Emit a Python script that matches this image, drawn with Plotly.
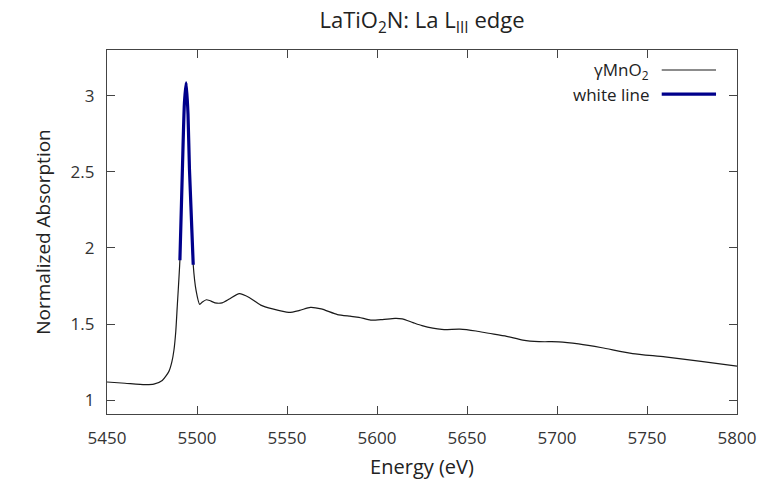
import plotly.graph_objects as go

# ---- data ----
energy = [5450, 5460, 5471, 5476, 5480.7, 5484.4, 5486, 5487.2, 5488.2, 5489,
          5490.5, 5491.9, 5493, 5494, 5495, 5495.8, 5497.9,
          5499.5, 5501.5, 5503, 5505.2, 5507, 5510, 5514, 5518, 5523.5,
          5529, 5535.4, 5542, 5551, 5557, 5563, 5569, 5578, 5585, 5590,
          5596.5, 5603, 5610, 5614, 5620, 5625, 5636, 5646, 5655, 5662,
          5672, 5681, 5690, 5701, 5712, 5725, 5742, 5760, 5780, 5800]
absorption = [1.12, 1.112, 1.103, 1.106, 1.13, 1.19, 1.25, 1.33, 1.45, 1.61,
              1.92, 2.52, 2.95, 3.085, 2.88, 2.52, 1.89,
              1.72, 1.63, 1.645, 1.66, 1.655, 1.64, 1.64, 1.665, 1.70,
              1.675, 1.625, 1.60, 1.577, 1.59, 1.61, 1.60, 1.563, 1.552, 1.545,
              1.526, 1.53, 1.538, 1.535, 1.51, 1.49, 1.465, 1.467, 1.455, 1.44,
              1.42, 1.395, 1.385, 1.384, 1.37, 1.345, 1.307, 1.285, 1.255, 1.225]
white_line_range = (5490.5, 5497.9)

x_ticks = [5450, 5500, 5550, 5600, 5650, 5700, 5750, 5800]
y_ticks = [1, 1.5, 2, 2.5, 3]

wl_e = [e for e in energy if white_line_range[0] <= e <= white_line_range[1]]
wl_a = [a for e, a in zip(energy, absorption) if white_line_range[0] <= e <= white_line_range[1]]

FONT = "Open Sans"
FRAME = "#444444"

fig = go.Figure()
fig.add_trace(go.Scatter(x=energy, y=absorption, mode="lines",
                         line=dict(color="#1a1a1a", width=1.2, shape="spline", smoothing=0.6),
                         showlegend=False, hoverinfo="skip"))
fig.add_trace(go.Scatter(x=wl_e, y=wl_a, mode="lines",
                         line=dict(color="#00008b", width=3.2, shape="spline", smoothing=0.6),
                         showlegend=False, hoverinfo="skip"))

# gnuplot-style legend (text left, sample right)
leg = [("γMnO<sub>2</sub>", "#1a1a1a", 1.2, 0.945),
       ("white line", "#00008b", 3.2, 0.879)]
for text, col, w, yy in leg:
    fig.add_annotation(x=0.8635, y=yy, xref="paper", yref="paper", text=text,
                       showarrow=False, xanchor="right", yanchor="middle",
                       font=dict(family=FONT, size=17, color="#222222"))
    fig.add_shape(type="line", xref="paper", yref="paper", x0=0.8805, x1=0.9667,
                  y0=yy, y1=yy, line=dict(color=col, width=w))

axis_common = dict(showline=True, linecolor=FRAME, linewidth=1.3, mirror="allticks",
                   ticks="inside", ticklen=8, tickcolor=FRAME, tickwidth=1.3,
                   showgrid=False, zeroline=False,
                   tickfont=dict(family=FONT, size=17, color="#333333"))

fig.update_layout(
    width=780, height=489,
    margin=dict(l=107, r=43, t=50, b=75),
    paper_bgcolor="white", plot_bgcolor="white",
    title=dict(text="LaTiO<sub>2</sub>N: La L<sub>III</sub> edge",
               x=0.5, xref="paper", y=0.958, yref="container", yanchor="middle",
               font=dict(family=FONT, size=22, color="#222222")),
    xaxis=dict(range=[5450, 5800], tickvals=x_ticks, ticklabelstandoff=8,
               title=dict(text="Energy (eV)", standoff=12,
                          font=dict(family=FONT, size=20, color="#222222")),
               **axis_common),
    yaxis=dict(range=[0.91, 3.30], tickvals=y_ticks, ticklabelstandoff=8,
               title=dict(text="Normalized Absorption", standoff=14,
                          font=dict(family=FONT, size=19, color="#222222")),
               **axis_common),
)

fig.write_html("out.html")
